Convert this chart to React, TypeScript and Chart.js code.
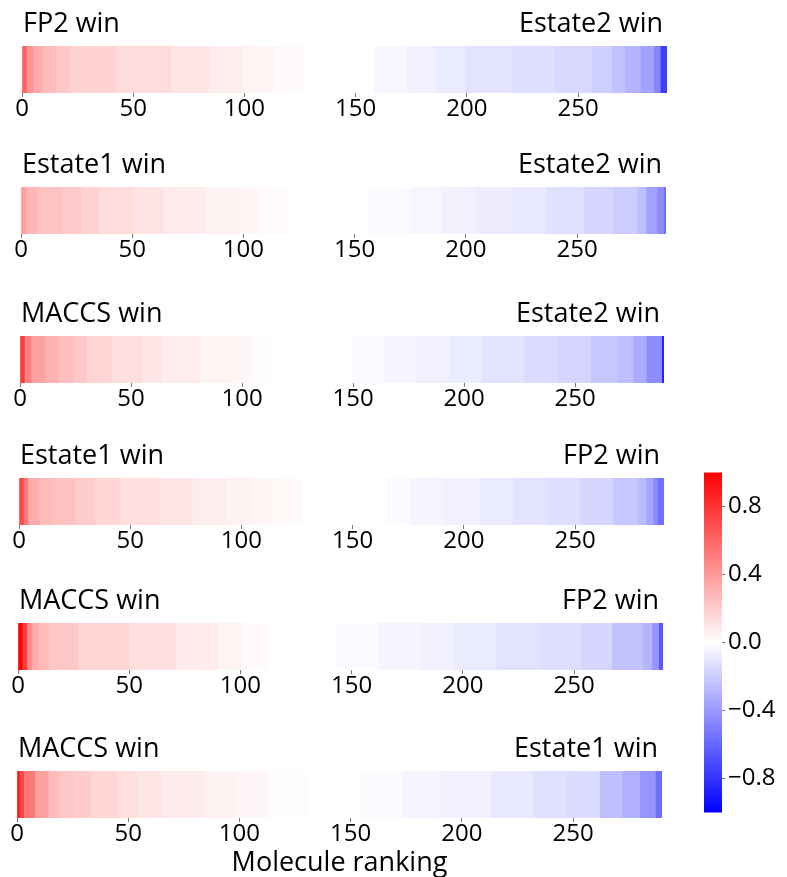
import React, { useEffect, useRef } from 'react';
import { Chart, registerables } from 'chart.js';

Chart.register(...registerables);

// ---------- data ----------
const MOLECULE_COUNT = 290;
const X_TICKS = [0, 50, 100, 150, 200, 250];
const X_TITLE = 'Molecule ranking';
const LEFT_LABELS = ['FP2 win', 'Estate1 win', 'MACCS win', 'Estate1 win', 'MACCS win', 'MACCS win'];
const RIGHT_LABELS = ['Estate2 win', 'Estate2 win', 'Estate2 win', 'FP2 win', 'FP2 win', 'Estate1 win'];

// run lengths (consecutive molecules in ranking order) and the score of each run
const FP2_ESTATE2_RUNS = [2, 3, 4, 6, 6, 21, 25, 17, 15, 15, 13, 31, 15, 13, 13, 21, 19, 17, 9, 6, 7, 6, 3, 3];
const FP2_ESTATE2_VALUES = [0.62, 0.42, 0.33, 0.27, 0.22, 0.18, 0.14, 0.1, 0.07, 0.04, 0.02, 0, -0.03, -0.06, -0.08, -0.11, -0.13, -0.15, -0.19, -0.24, -0.3, -0.36, -0.48, -0.76];

const ESTATE1_ESTATE2_RUNS = [2, 5, 11, 9, 8, 15, 14, 19, 15, 9, 13, 36, 19, 14, 15, 17, 15, 17, 13, 11, 4, 5, 3, 1];
const ESTATE1_ESTATE2_VALUES = [0.38, 0.29, 0.24, 0.21, 0.18, 0.14, 0.11, 0.08, 0.05, 0.035, 0.015, 0, -0.02, -0.035, -0.05, -0.07, -0.09, -0.12, -0.16, -0.2, -0.26, -0.37, -0.45, -0.57];

const MACCS_ESTATE2_RUNS = [2, 3, 6, 6, 7, 6, 11, 14, 9, 17, 15, 8, 9, 36, 15, 14, 15, 15, 19, 15, 15, 12, 7, 6, 7, 1];
const MACCS_ESTATE2_VALUES = [0.76, 0.49, 0.37, 0.31, 0.25, 0.22, 0.17, 0.13, 0.1, 0.07, 0.045, 0.03, 0.01, 0, -0.02, -0.04, -0.06, -0.08, -0.11, -0.14, -0.17, -0.22, -0.25, -0.33, -0.45, -0.88];

const ESTATE1_FP2_RUNS = [2, 2, 5, 6, 10, 9, 11, 18, 15, 15, 11, 12, 11, 38, 11, 15, 16, 15, 15, 15, 15, 11, 4, 3, 2, 3];
const ESTATE1_FP2_VALUES = [0.72, 0.53, 0.33, 0.27, 0.24, 0.2, 0.16, 0.13, 0.1, 0.075, 0.05, 0.035, 0.02, 0, -0.02, -0.04, -0.06, -0.08, -0.11, -0.13, -0.16, -0.22, -0.27, -0.35, -0.45, -0.57];

const MACCS_FP2_RUNS = [2, 2, 2, 3, 5, 13, 23, 21, 19, 11, 11, 31, 19, 19, 15, 19, 19, 19, 14, 14, 4, 3, 2];
const MACCS_FP2_VALUES = [1.0, 0.76, 0.45, 0.33, 0.27, 0.22, 0.16, 0.12, 0.08, 0.045, 0.02, 0, -0.02, -0.04, -0.06, -0.08, -0.11, -0.13, -0.16, -0.24, -0.29, -0.41, -0.65];

const MACCS_ESTATE1_RUNS = [1, 2, 5, 6, 5, 7, 7, 12, 9, 11, 19, 14, 15, 18, 23, 19, 17, 23, 19, 15, 15, 10, 8, 7, 3];
const MACCS_ESTATE1_VALUES = [0.92, 0.72, 0.53, 0.37, 0.27, 0.22, 0.2, 0.16, 0.13, 0.1, 0.08, 0.05, 0.03, 0.012, 0, -0.02, -0.04, -0.06, -0.09, -0.12, -0.14, -0.25, -0.31, -0.41, -0.57];

const STRIP_RUNS = [FP2_ESTATE2_RUNS, ESTATE1_ESTATE2_RUNS, MACCS_ESTATE2_RUNS, ESTATE1_FP2_RUNS, MACCS_FP2_RUNS, MACCS_ESTATE1_RUNS];
const STRIP_VALUES = [FP2_ESTATE2_VALUES, ESTATE1_ESTATE2_VALUES, MACCS_ESTATE2_VALUES, ESTATE1_FP2_VALUES, MACCS_FP2_VALUES, MACCS_ESTATE1_VALUES];

const COLORBAR_MIN = -1;
const COLORBAR_MAX = 1;
const COLORBAR_TICKS = [0.8, 0.4, 0, -0.4, -0.8];

// ---------- layout / style ----------
const FONT = '"Open Sans", "DejaVu Sans", sans-serif';
const STRIP_H = 47;
const PANEL_W = 700;
const LAYOUT = [
  { top: 46, left: 22, right: 667, padTop: 46, axisH: 34 },
  { top: 187, left: 21, right: 666, padTop: 46, axisH: 34 },
  { top: 336, left: 20, right: 664, padTop: 46, axisH: 34 },
  { top: 478, left: 19, right: 664, padTop: 46, axisH: 34 },
  { top: 623, left: 18, right: 663, padTop: 46, axisH: 34 },
  { top: 771, left: 17, right: 662, padTop: 40, axisH: 59 },
];
const CB = { left: 700, top: 455, width: 87, height: 375, padLeft: 4, padV: 13, axisW: 65 };

function bwr(v: number): string {
  const t = Math.max(-1, Math.min(1, v));
  if (t >= 0) {
    const c = Math.round(255 * (1 - t));
    return `rgb(255,${c},${c})`;
  }
  const c = Math.round(255 * (1 + t));
  return `rgb(${c},${c},255)`;
}

function runDatasets(runs: number[], values: number[]) {
  let start = 0;
  return runs.map((n, i) => {
    const ds = {
      data: [[start, start + n]],
      backgroundColor: bwr(values[i]),
      borderWidth: 0,
      borderSkipped: false,
      grouped: false,
      categoryPercentage: 1,
      barPercentage: 1,
    };
    start += n;
    return ds;
  });
}

const sideLabels = {
  id: 'sideLabels',
  afterDraw(chart: any, _args: any, opts: any) {
    const { ctx, chartArea } = chart;
    ctx.save();
    ctx.font = `27px ${FONT}`;
    ctx.fillStyle = '#000';
    ctx.textBaseline = 'alphabetic';
    ctx.textAlign = 'left';
    ctx.fillText(opts.left, chartArea.left + 1, chartArea.top - 14);
    ctx.textAlign = 'right';
    ctx.fillText(opts.right, chartArea.right - 4, chartArea.top - 14);
    ctx.restore();
  },
};

function fmtCb(v: number): string {
  const s = Math.abs(v).toFixed(1);
  return v < 0 ? '\u2212' + s : s;
}

export default function App() {
  const stripRefs = useRef<(HTMLCanvasElement | null)[]>([]);
  const cbRef = useRef<HTMLCanvasElement | null>(null);

  useEffect(() => {
    const charts: Chart[] = [];
    LAYOUT.forEach((lay, k) => {
      const canvas = stripRefs.current[k];
      if (!canvas) return;
      const isLast = k === LAYOUT.length - 1;
      const chart = new Chart(canvas, {
        type: 'bar',
        data: { labels: [''], datasets: runDatasets(STRIP_RUNS[k], STRIP_VALUES[k]) as any },
        options: {
          indexAxis: 'y',
          responsive: false,
          maintainAspectRatio: false,
          animation: false,
          layout: { padding: { left: lay.left, right: PANEL_W - lay.right, top: lay.padTop, bottom: 0 } },
          plugins: {
            legend: { display: false },
            tooltip: { enabled: false },
            sideLabels: { left: LEFT_LABELS[k], right: RIGHT_LABELS[k] },
          } as any,
          scales: {
            y: { display: false },
            x: {
              type: 'linear',
              min: 0,
              max: MOLECULE_COUNT,
              afterBuildTicks: (s: any) => {
                s.ticks = X_TICKS.map((v) => ({ value: v }));
              },
              afterFit: (s: any) => {
                s.height = lay.axisH;
              },
              ticks: {
                autoSkip: false,
                maxRotation: 0,
                padding: -2,
                color: '#000',
                font: { family: FONT, size: 24 },
                callback: (v: any) => String(v),
              },
              grid: { drawOnChartArea: false, drawTicks: true, tickLength: 4, color: '#777', lineWidth: 1 },
              border: { display: false },
              title: {
                display: isLast,
                text: X_TITLE,
                color: '#000',
                font: { family: FONT, size: 27, lineHeight: 1.0 },
                padding: { top: 0, bottom: 0 },
              },
            },
          },
        },
        plugins: [sideLabels as any],
      });
      charts.push(chart);
    });

    if (cbRef.current) {
      const chart = new Chart(cbRef.current, {
        type: 'bar',
        data: {
          labels: [''],
          datasets: [
            {
              data: [[COLORBAR_MIN, COLORBAR_MAX]] as any,
              borderWidth: 0,
              categoryPercentage: 1,
              barPercentage: 1,
              backgroundColor: (ctx: any) => {
                const { chart } = ctx;
                const area = chart.chartArea;
                if (!area) return 'white';
                const g = chart.ctx.createLinearGradient(0, area.bottom, 0, area.top);
                g.addColorStop(0, bwr(COLORBAR_MIN));
                g.addColorStop(0.5, bwr(0));
                g.addColorStop(1, bwr(COLORBAR_MAX));
                return g;
              },
            },
          ],
        },
        options: {
          responsive: false,
          maintainAspectRatio: false,
          animation: false,
          layout: { padding: { left: CB.padLeft, right: 0, top: CB.padV, bottom: CB.padV } },
          plugins: { legend: { display: false }, tooltip: { enabled: false } },
          scales: {
            x: { display: false },
            y: {
              type: 'linear',
              position: 'right',
              min: COLORBAR_MIN,
              max: COLORBAR_MAX,
              afterBuildTicks: (s: any) => {
                s.ticks = COLORBAR_TICKS.map((v) => ({ value: v }));
              },
              afterFit: (s: any) => {
                s.width = CB.axisW;
              },
              ticks: {
                padding: 3,
                color: '#000',
                font: { family: FONT, size: 24 },
                callback: (v: any) => fmtCb(Number(v)),
              },
              grid: { drawOnChartArea: false, drawTicks: true, tickLength: 3, color: '#777' },
              border: { display: false },
            },
          },
        },
      });
      charts.push(chart);
    }

    return () => charts.forEach((c) => c.destroy());
  }, []);

  return (
    <div style={{ position: 'absolute', left: 0, top: 0, width: 787, height: 877, overflow: 'hidden', background: '#fff' }}>
      {LAYOUT.map((lay, k) => (
        <canvas
          key={k}
          ref={(el) => {
            stripRefs.current[k] = el;
          }}
          width={PANEL_W}
          height={lay.padTop + STRIP_H + lay.axisH}
          style={{ position: 'absolute', left: 0, top: lay.top - lay.padTop }}
        />
      ))}
      <canvas
        ref={cbRef}
        width={CB.width}
        height={CB.height}
        style={{ position: 'absolute', left: CB.left, top: CB.top }}
      />
    </div>
  );
}
